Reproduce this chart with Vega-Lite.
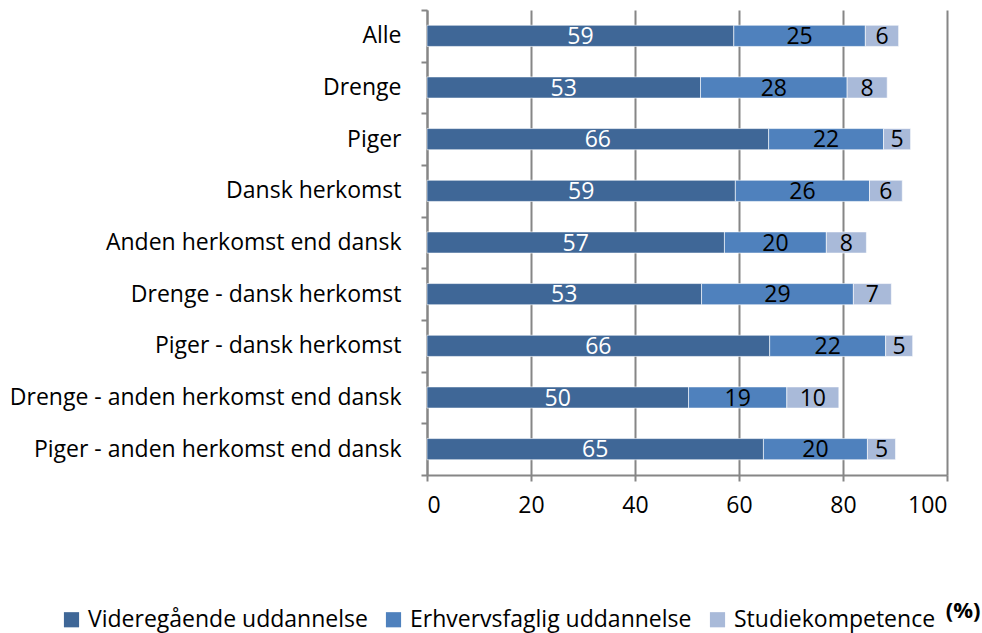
{
  "$schema": "https://vega.github.io/schema/vega-lite/v6.json",
  "width": 520,
  "height": 465,
  "autosize": {"type": "none"},
  "padding": {"left": 427, "top": 10, "right": 35, "bottom": 158},
  "background": "white",
  "config": {
    "font": "Open Sans",
    "view": {"stroke": null}
  },
  "data": {
    "values": [
      {"gruppe": "Alle", "serie": "Videregående uddannelse", "o": 1, "v": 59.0},
      {"gruppe": "Alle", "serie": "Erhvervsfaglig uddannelse", "o": 2, "v": 25.3},
      {"gruppe": "Alle", "serie": "Studiekompetence", "o": 3, "v": 6.4},
      {"gruppe": "Drenge", "serie": "Videregående uddannelse", "o": 1, "v": 52.6},
      {"gruppe": "Drenge", "serie": "Erhvervsfaglig uddannelse", "o": 2, "v": 28.2},
      {"gruppe": "Drenge", "serie": "Studiekompetence", "o": 3, "v": 7.7},
      {"gruppe": "Piger", "serie": "Videregående uddannelse", "o": 1, "v": 65.7},
      {"gruppe": "Piger", "serie": "Erhvervsfaglig uddannelse", "o": 2, "v": 22.1},
      {"gruppe": "Piger", "serie": "Studiekompetence", "o": 3, "v": 5.2},
      {"gruppe": "Dansk herkomst", "serie": "Videregående uddannelse", "o": 1, "v": 59.3},
      {"gruppe": "Dansk herkomst", "serie": "Erhvervsfaglig uddannelse", "o": 2, "v": 25.8},
      {"gruppe": "Dansk herkomst", "serie": "Studiekompetence", "o": 3, "v": 6.3},
      {"gruppe": "Anden herkomst end dansk", "serie": "Videregående uddannelse", "o": 1, "v": 57.2},
      {"gruppe": "Anden herkomst end dansk", "serie": "Erhvervsfaglig uddannelse", "o": 2, "v": 19.6},
      {"gruppe": "Anden herkomst end dansk", "serie": "Studiekompetence", "o": 3, "v": 7.7},
      {"gruppe": "Drenge - dansk herkomst", "serie": "Videregående uddannelse", "o": 1, "v": 52.8},
      {"gruppe": "Drenge - dansk herkomst", "serie": "Erhvervsfaglig uddannelse", "o": 2, "v": 29.2},
      {"gruppe": "Drenge - dansk herkomst", "serie": "Studiekompetence", "o": 3, "v": 7.3},
      {"gruppe": "Piger - dansk herkomst", "serie": "Videregående uddannelse", "o": 1, "v": 65.9},
      {"gruppe": "Piger - dansk herkomst", "serie": "Erhvervsfaglig uddannelse", "o": 2, "v": 22.3},
      {"gruppe": "Piger - dansk herkomst", "serie": "Studiekompetence", "o": 3, "v": 5.2},
      {"gruppe": "Drenge - anden herkomst end dansk", "serie": "Videregående uddannelse", "o": 1, "v": 50.3},
      {"gruppe": "Drenge - anden herkomst end dansk", "serie": "Erhvervsfaglig uddannelse", "o": 2, "v": 18.9},
      {"gruppe": "Drenge - anden herkomst end dansk", "serie": "Studiekompetence", "o": 3, "v": 10.0},
      {"gruppe": "Piger - anden herkomst end dansk", "serie": "Videregående uddannelse", "o": 1, "v": 64.7},
      {"gruppe": "Piger - anden herkomst end dansk", "serie": "Erhvervsfaglig uddannelse", "o": 2, "v": 20.0},
      {"gruppe": "Piger - anden herkomst end dansk", "serie": "Studiekompetence", "o": 3, "v": 5.4}
    ]
  },
  "transform": [
    {"stack": "v", "groupby": ["gruppe"], "sort": [{"field": "o", "order": "ascending"}], "as": ["x0", "x1"]},
    {"calculate": "(datum.x0 + datum.x1) / 2", "as": "xm"}
  ],
  "encoding": {
    "y": {
      "field": "gruppe",
      "type": "nominal",
      "sort": null,
      "scale": {"paddingInner": 0, "paddingOuter": 0},
      "axis": {
        "title": null,
        "labelFontSize": 23,
        "labelColor": "black",
        "labelPadding": 20,
        "tickBand": "extent",
        "tickColor": "#868686",
        "tickWidth": 2,
        "tickSize": 6,
        "domainColor": "#868686",
        "domainWidth": 2,
        "labelLimit": 440
      }
    }
  },
  "layer": [
    {
      "mark": {"type": "bar", "stroke": "white", "strokeWidth": 0.6, "height": {"band": 0.41}},
      "encoding": {
        "x": {
          "field": "x0",
          "type": "quantitative",
          "scale": {"domain": [0, 100], "nice": false},
          "axis": {
            "values": [0, 20, 40, 60, 80, 100],
            "grid": true,
            "gridColor": "#868686",
            "gridWidth": 2,
            "domainColor": "#868686",
            "domainWidth": 2,
            "tickColor": "#868686",
            "tickWidth": 2,
            "tickSize": 6,
            "labelFontSize": 23,
            "labelColor": "black",
            "labelPadding": 13,
            "title": "(%)",
            "titleFontSize": 22,
            "titleFontWeight": "bold",
            "titleColor": "black",
            "titleAnchor": "end",
            "titleAlign": "right",
            "titleX": 553,
            "titleY": 125
          }
        },
        "x2": {"field": "x1"},
        "color": {
          "field": "serie",
          "type": "nominal",
          "sort": ["Videregående uddannelse", "Erhvervsfaglig uddannelse", "Studiekompetence"],
          "scale": {
            "domain": ["Videregående uddannelse", "Erhvervsfaglig uddannelse", "Studiekompetence"],
            "range": ["#3F6797", "#4F81BD", "#A9BAD9"]
          },
          "legend": {
            "title": null,
            "orient": "none",
            "direction": "horizontal",
            "legendX": -367,
            "legendY": 598,
            "symbolType": "square",
            "symbolSize": 230,
            "symbolStrokeWidth": 0,
            "labelFontSize": 23,
            "labelColor": "black",
            "labelLimit": 500,
            "columnPadding": 14,
            "labelOffset": 5
          }
        }
      }
    },
    {
      "mark": {"type": "text", "fontSize": 23, "baseline": "middle", "dy": 1},
      "encoding": {
        "x": {"field": "xm", "type": "quantitative"},
        "text": {"field": "v", "type": "quantitative", "format": ".0f"},
        "color": {
          "condition": {"test": "datum.o === 1", "value": "white"},
          "value": "black"
        }
      }
    }
  ]
}
